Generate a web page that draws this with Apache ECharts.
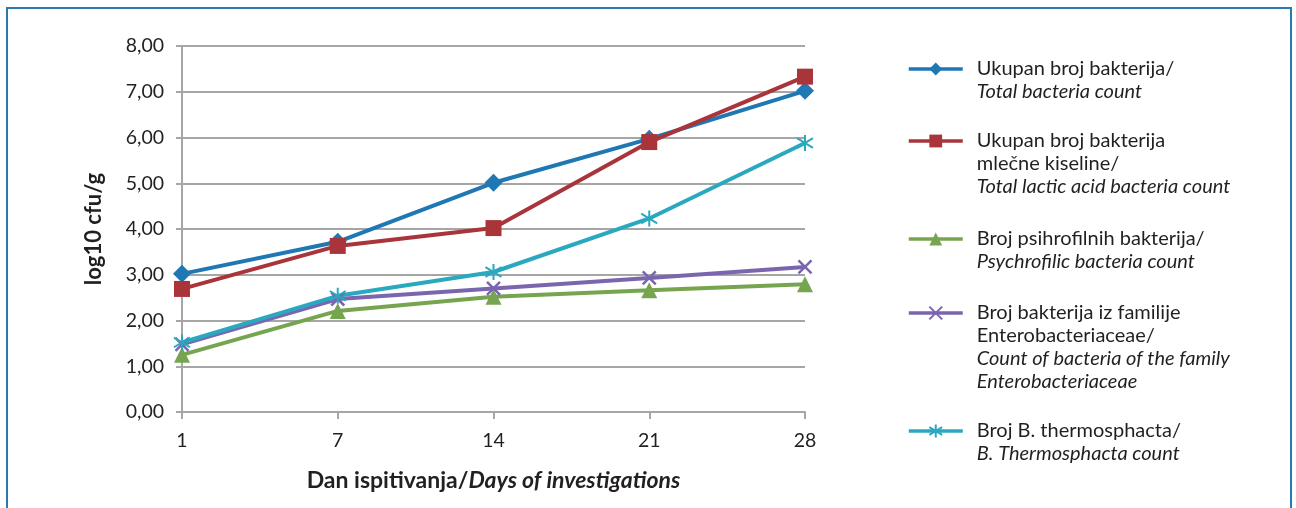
<!DOCTYPE html>
<html>
<head>
<meta charset="utf-8">
<script src="https://cdn.jsdelivr.net/npm/echarts@6/dist/echarts.min.js"></script>
<style>
html, body { margin: 0; padding: 0; background: #fff; }
#chart { width: 1296px; height: 508px; }
</style>
</head>
<body>
<div id="chart"></div>
<script>
// dani ispitivanja
var days = ['1', '7', '14', '21', '28'];

// log10 cfu/g
var totalBacteria = [3.02, 3.72, 5.01, 5.97, 7.02];
var lacticBacteria = [2.69, 3.63, 4.02, 5.90, 7.33];
var psychroBacteria = [1.25, 2.21, 2.52, 2.66, 2.79];
var enteroBacteria = [1.48, 2.47, 2.70, 2.93, 3.17];
var thermoBacteria = [1.52, 2.54, 3.06, 4.23, 5.88];

var names = [
    'Ukupan broj bakterija/',
    'Ukupan broj bakterija mlečne kiseline/',
    'Broj psihrofilnih bakterija/',
    'Broj bakterija iz familije Enterobacteriaceae/',
    'Broj B. thermosphacta/'
];
// tekst legende: normalni redovi + italic redovi
var legendLines = [
    [['Ukupan broj bakterija/'], ['Total bacteria count']],
    [['Ukupan broj bakterija', 'mlečne kiseline/'], ['Total lactic acid bacteria count']],
    [['Broj psihrofilnih bakterija/'], ['Psychrofilic bacteria count']],
    [['Broj bakterija iz familije', 'Enterobacteriaceae/'], ['Count of bacteria of the family', 'Enterobacteriaceae']],
    [['Broj B. thermosphacta/'], ['B. Thermosphacta count']]
];
var legendIconY = [67, 139, 237, 311, 429];

var colors = ['#1f77b4', '#a9343a', '#77a54f', '#7a66ae', '#2aa8bf'];
var FONT = 'Lato, "Open Sans", sans-serif';
var LH = 23;
var ITEM_H = 16;

var chart = echarts.init(document.getElementById('chart'));

// svaka stavka legende posebno, da prvi red teksta stoji uz ikonu
var legends = names.map(function(name, i) {
    var normal = legendLines[i][0];
    var italic = legendLines[i][1];
    var k = normal.length + italic.length;
    var txt = normal.map(function(s) { return '{n|' + s + '}'; })
        .concat(italic.map(function(s) { return '{i|' + s + '}'; })).join('\n');
    return {
        data: [name],
        orient: 'vertical',
        left: 907,
        top: legendIconY[i] - ITEM_H / 2,
        padding: 0,
        itemWidth: 54,
        itemHeight: ITEM_H,
        selectedMode: false,
        lineStyle: { width: 3.5 },
        formatter: function() { return txt; },
        textStyle: {
            padding: [(k - 1) * LH, 0, 0, 9],
            rich: {
                n: { fontFamily: FONT, fontSize: 20, color: '#231f20', lineHeight: LH },
                i: { fontFamily: FONT, fontSize: 20, color: '#231f20', lineHeight: LH, fontStyle: 'italic' }
            }
        }
    };
});

function mkSeries(i, data, symbol, size, border) {
    return {
        name: names[i],
        type: 'line',
        data: data,
        symbol: symbol,
        symbolSize: size,
        showSymbol: true,
        lineStyle: { color: colors[i], width: 4 },
        itemStyle: { color: colors[i], borderColor: colors[i], borderWidth: border || 0 },
        emphasis: { disabled: true },
        animation: false
    };
}

var option = {
    backgroundColor: '#fff',
    graphic: [{
        type: 'rect',
        shape: { x: 7, y: 8, width: 1284, height: 520 },
        style: { fill: 'none', stroke: '#2a79b1', lineWidth: 2 },
        silent: true
    }],
    grid: { left: 182, right: 491, top: 46, bottom: 96 },
    legend: legends,
    xAxis: {
        type: 'category',
        data: days,
        boundaryGap: false,
        name: '{b|Dan ispitivanja/}{bi|Days of investigations}',
        nameLocation: 'middle',
        nameGap: 57,
        nameTextStyle: {
            rich: {
                b: { fontFamily: FONT, fontSize: 23, fontWeight: 'bold', color: '#231f20' },
                bi: { fontFamily: FONT, fontSize: 23, fontWeight: 'bold', fontStyle: 'italic', color: '#231f20' }
            }
        },
        axisLine: { lineStyle: { color: '#a6a6a6', width: 2 } },
        axisTick: { show: true, length: 7, lineStyle: { color: '#a6a6a6', width: 2 } },
        axisLabel: { fontFamily: FONT, fontSize: 19.5, color: '#231f20', margin: 19 },
        splitLine: { show: false }
    },
    yAxis: {
        type: 'value',
        min: 0,
        max: 8,
        interval: 1,
        name: 'log10 cfu/g',
        nameLocation: 'middle',
        nameGap: 77,
        nameRotate: 90,
        nameTextStyle: { fontFamily: FONT, fontSize: 22, fontWeight: 'bold', color: '#231f20' },
        axisLine: { show: true, lineStyle: { color: '#a6a6a6', width: 2 } },
        axisTick: { show: true, length: 6, lineStyle: { color: '#a6a6a6', width: 2 } },
        axisLabel: {
            fontFamily: FONT, fontSize: 19.5, color: '#231f20', margin: 18,
            formatter: function(v) { return v.toFixed(2).replace('.', ','); }
        },
        splitLine: { lineStyle: { color: '#a6a6a6', width: 2 } }
    },
    series: [
        mkSeries(0, totalBacteria, 'diamond', 18),
        mkSeries(1, lacticBacteria, 'rect', 16),
        mkSeries(2, psychroBacteria, 'triangle', 16),
        mkSeries(3, enteroBacteria, 'path://M0,0L10,10M10,0L0,10', 13, 2.5),
        mkSeries(4, thermoBacteria, 'path://M5,0L5,10M0,2L10,8M0,8L10,2', 16, 2)
    ]
};

chart.setOption(option);
</script>
</body>
</html>
